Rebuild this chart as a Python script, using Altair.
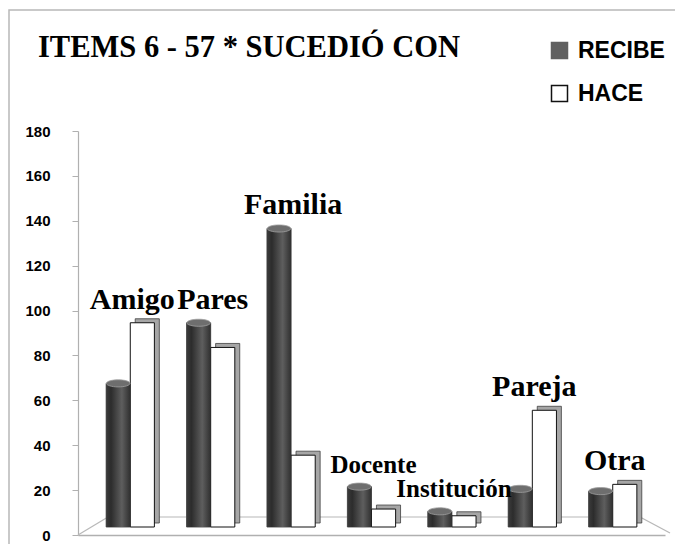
import altair as alt
import pandas as pd

categories = ["Amigo", "Pares", "Familia", "Docente", "Institución", "Pareja", "Otra"]
recibe = [64, 91, 133, 18, 7, 17, 16]
hace = [91, 80, 32, 8, 5, 52, 19]
series = ["RECIBE", "HACE"]
y_ticks = [0, 20, 40, 60, 80, 100, 120, 140, 160, 180]
title_text = "ITEMS 6 - 57 * SUCEDIÓ CON"
small_labels = ["Docente", "Institución"]

rows = []
for c, r, h in zip(categories, recibe, hace):
    rows.append({"cat": c, "serie": "RECIBE", "valor": r})
    rows.append({"cat": c, "serie": "HACE", "valor": h})
df = pd.DataFrame(rows)
labels = pd.DataFrame({"cat": categories, "valor": [max(r, h) for r, h in zip(recibe, hace)]})

W, H = 587, 404
LIFT = -8

x_axis = alt.Axis(labels=False, ticks=False, title=None, domainColor="#b0b0b0", domainWidth=1.5)
x_scale = alt.Scale(paddingInner=0.4, paddingOuter=0.35)
y_axis = alt.Axis(values=y_ticks, title=None, grid=False, domainColor="#b0b0b0", domainWidth=1.2,
                  tickColor="#b0b0b0", tickSize=6, labelPadding=22,
                  labelFont="Liberation Sans", labelFontWeight="bold",
                  labelFontSize=15, labelColor="black")
y_scale = alt.Scale(domain=[0, 180])

X = alt.X("cat:N", sort=categories, axis=x_axis, scale=x_scale)
XO = alt.XOffset("serie:N", sort=series, scale=alt.Scale(domain=series))
Y = alt.Y("valor:Q", scale=y_scale, axis=y_axis)

base = alt.Chart(df)
one = pd.DataFrame({"t": [title_text]})

frame = alt.Chart(one).mark_rect(
    fill="transparent", stroke="#b8b8b8", strokeWidth=1.5
).encode(x=alt.value(-69), x2=alt.value(W + 60), y=alt.value(-121), y2=alt.value(H + 60))

title = alt.Chart(one).mark_text(
    font="Liberation Serif", fontWeight="bold", fontSize=30.5, align="left",
    baseline="alphabetic", color="black"
).encode(x=alt.value(-40), y=alt.value(-74), text="t:N")

floor_back = alt.Chart(one).mark_rule(color="#b8b8b8", strokeWidth=1.2).encode(
    x=alt.value(30), x2=alt.value(562), y=alt.value(H - 18))
floor_left = alt.Chart(one).mark_rule(color="#b8b8b8", strokeWidth=1.2).encode(
    x=alt.value(0), x2=alt.value(30), y=alt.value(H), y2=alt.value(H - 18))
floor_right = alt.Chart(one).mark_rule(color="#b8b8b8", strokeWidth=1.2).encode(
    x=alt.value(562), x2=alt.value(592), y=alt.value(H - 18), y2=alt.value(H - 2))

# 3D side/top face of the HACE boxes (half-band bar, shifted right and up)
side = base.transform_filter(alt.datum.serie == "HACE").mark_bar(
    color="#a6a6a6", stroke="#404040", strokeWidth=0.8,
    width=alt.RelativeBandSize(0.5), xOffset=17, yOffset=LIFT - 4, y2Offset=LIFT - 4
).encode(x=X, y=Y)

main = base.mark_bar(strokeWidth=1, yOffset=LIFT, y2Offset=LIFT).encode(
    x=X, xOffset=XO, y=Y,
    color=alt.Color("serie:N", sort=series,
                    scale=alt.Scale(domain=series, range=["#606060", "#ffffff"]),
                    legend=alt.Legend(title=None, orient="none", legendX=470, legendY=-92,
                                      symbolType="square", symbolSize=256, symbolStrokeWidth=1.5,
                                      labelFont="Liberation Sans", labelFontWeight="bold",
                                      labelFontSize=23, labelColor="black", labelOffset=7,
                                      rowPadding=19)),
    stroke=alt.Stroke("serie:N", sort=series,
                      scale=alt.Scale(domain=series, range=["#606060", "#111111"]),
                      legend=None),
)

cyl = base.transform_filter(alt.datum.serie == "RECIBE").mark_bar(
    yOffset=LIFT, y2Offset=LIFT,
    color=alt.Gradient(gradient="linear", x1=0, x2=1, y1=0, y2=0,
                       stops=[alt.GradientStop(offset=0, color="#3c3c3c"),
                              alt.GradientStop(offset=0.2, color="#2c2c2c"),
                              alt.GradientStop(offset=0.65, color="#5e5e5e"),
                              alt.GradientStop(offset=1, color="#303030")])
).encode(x=X, xOffset=XO, y=Y)

ellipse = "M-1,0 A1,0.3 0 1,1 1,0 A1,0.3 0 1,1 -1,0 Z"
caps = base.transform_filter(alt.datum.serie == "RECIBE").mark_point(
    shape=ellipse, size=560, filled=True, fill="#6e6e6e", stroke="#a0a0a0",
    strokeWidth=0.8, opacity=1, yOffset=LIFT
).encode(x=X, xOffset=XO, y=Y)

text = alt.Chart(labels).mark_text(
    font="Liberation Serif", fontWeight="bold", baseline="alphabetic",
    dy=-22, dx=2, color="black"
).encode(
    x=X, y=Y, text="cat:N",
    size=alt.condition(alt.FieldOneOfPredicate(field="cat", oneOf=small_labels),
                       alt.value(25), alt.value(30)),
)

chart = alt.layer(frame, title, floor_back, floor_left, floor_right, side, main, cyl, caps, text).properties(
    width=W, height=H,
    padding={"left": 70, "top": 123, "right": 10, "bottom": 9},
    autosize=alt.AutoSizeParams(type="none"),
).configure_view(stroke=None)

chart.save("out.html", embed_options={"renderer": "svg", "actions": False})
